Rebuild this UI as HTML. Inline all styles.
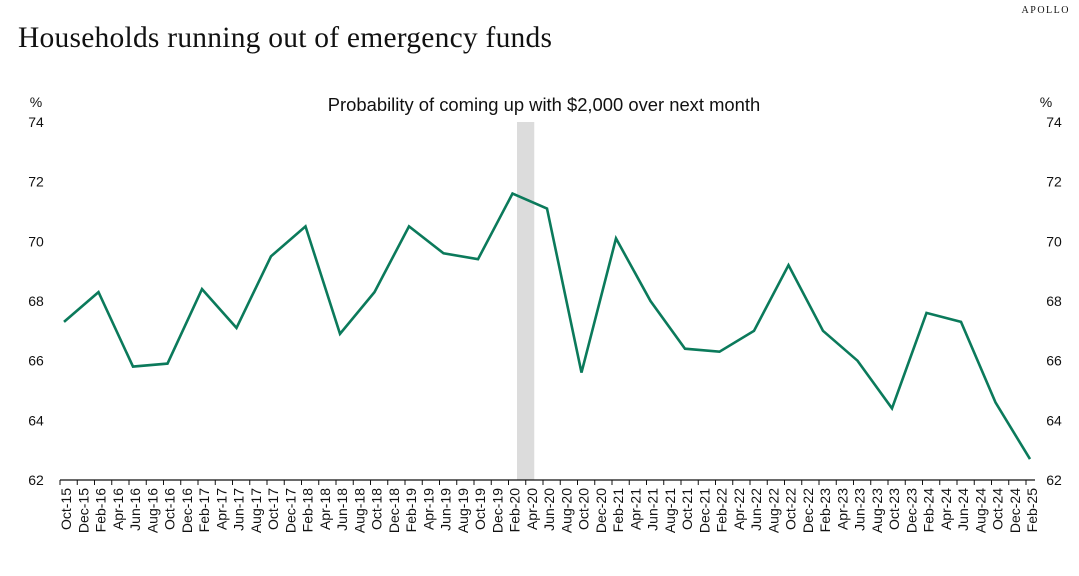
<!DOCTYPE html>
<html><head><meta charset="utf-8"><style>
body{margin:0;background:#fff;width:1079px;height:571px;overflow:hidden}
text{font-family:"Liberation Sans",sans-serif;fill:#111}
</style></head><body>
<svg id="chart" width="1079" height="571" xmlns="http://www.w3.org/2000/svg">
<text x="1070" y="13" text-anchor="end" style="font-family:'Liberation Serif',serif;font-size:10px;letter-spacing:1.5px">APOLLO</text>
<text x="18" y="47" textLength="534" style="font-family:'Liberation Serif',serif;font-size:29.5px">Households running out of emergency funds</text>
<text x="544" y="111" text-anchor="middle" style="font-size:18.4px">Probability of coming up with $2,000 over next month</text>
<text x="36" y="107" text-anchor="middle" style="font-size:14px">%</text>
<text x="1046" y="107" text-anchor="middle" style="font-size:14px">%</text>
<g id="g"></g>
</svg>
<script>
const categories=["Oct-15","Dec-15","Feb-16","Apr-16","Jun-16","Aug-16","Oct-16","Dec-16","Feb-17","Apr-17","Jun-17","Aug-17","Oct-17","Dec-17","Feb-18","Apr-18","Jun-18","Aug-18","Oct-18","Dec-18","Feb-19","Apr-19","Jun-19","Aug-19","Oct-19","Dec-19","Feb-20","Apr-20","Jun-20","Aug-20","Oct-20","Dec-20","Feb-21","Apr-21","Jun-21","Aug-21","Oct-21","Dec-21","Feb-22","Apr-22","Jun-22","Aug-22","Oct-22","Dec-22","Feb-23","Apr-23","Jun-23","Aug-23","Oct-23","Dec-23","Feb-24","Apr-24","Jun-24","Aug-24","Oct-24","Dec-24","Feb-25"];
const pointDates=["Oct-15","Feb-16","Jun-16","Oct-16","Feb-17","Jun-17","Oct-17","Feb-18","Jun-18","Oct-18","Feb-19","Jun-19","Oct-19","Feb-20","Jun-20","Oct-20","Feb-21","Jun-21","Oct-21","Feb-22","Jun-22","Oct-22","Feb-23","Jun-23","Oct-23","Feb-24","Jun-24","Oct-24","Feb-25"];
const values=[67.3,68.3,65.8,65.9,68.4,67.1,69.5,70.5,66.9,68.3,70.5,69.6,69.4,71.6,71.1,65.6,70.1,68.0,66.4,66.3,67.0,69.2,67.0,66.0,64.4,67.6,67.3,64.6,62.7];
const yTicks=[62,64,66,68,70,72,74];
const recessionStart="Feb-20", recessionEnd="Apr-20";
const X0=60,X1=1035,Y0=480,Y1=122,ns="http://www.w3.org/2000/svg";
const bw=17.25;
const tx=i=>X0+bw*i;
const x=i=>tx(i)+4;
const y=v=>Y0-(v-62)/(74-62)*(Y0-Y1);
const g=document.getElementById('g');
function el(t,a){const e=document.createElementNS(ns,t);for(const k in a)e.setAttribute(k,a[k]);g.appendChild(e);return e;}
const rs0=x(categories.indexOf(recessionStart))+4.5, rs1=x(categories.indexOf(recessionEnd))+4.5;
const rs=el('rect',{x:rs0,y:Y1,width:rs1-rs0,height:Y0-Y1,fill:'#dcdcdc'});


yTicks.forEach(v=>{
 const a=el('text',{x:36,y:y(v)+5,'text-anchor':'middle','font-size':14});a.textContent=v;
 
 
 const b=el('text',{x:1054,y:y(v)+5,'text-anchor':'middle','font-size':14});b.textContent=v;
 
 
});
const ax=el('line',{x1:X0,x2:X1,y1:Y0,y2:Y0,stroke:'#111','stroke-width':1.3});


categories.forEach((c,i)=>{
 const t=el('line',{x1:tx(i),x2:tx(i),y1:Y0,y2:Y0+5,stroke:'#111'});
 
 
 const l=el('text',{transform:`translate(${tx(i)+11},${Y0+8}) rotate(-90)`,'text-anchor':'end','font-size':14});l.textContent=c;
 
 
});
const pts=pointDates.map((d,k)=>x(categories.indexOf(d)).toFixed(1)+','+y(values[k]).toFixed(1)).join(' ');
const ln=el('polyline',{points:pts,fill:'none',stroke:'#0b7a5b','stroke-width':2.6,'stroke-linejoin':'miter'});


</script>
</body></html>
